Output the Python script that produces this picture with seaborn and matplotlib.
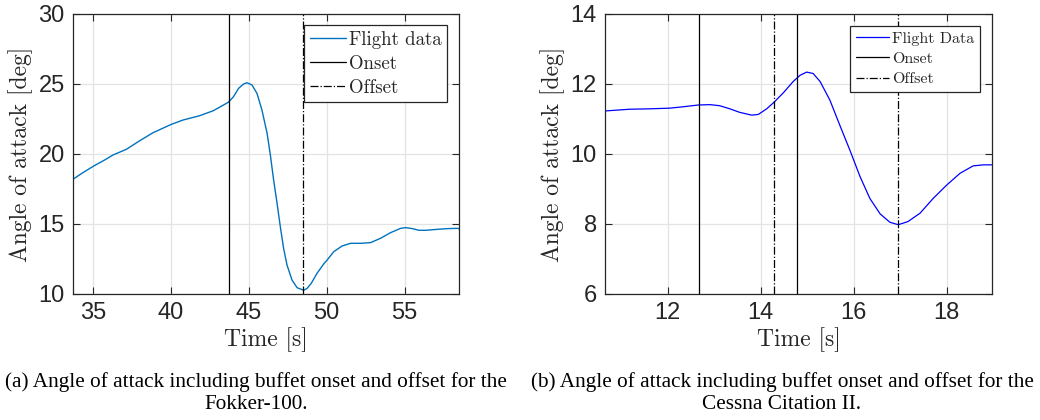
import numpy as np
import pandas as pd
import matplotlib
matplotlib.use("Agg")
import matplotlib.pyplot as plt
import seaborn as sns

# ---- data: Fokker-100 ----
fokker_t = [33.69, 34.34, 35.03, 35.73, 36.27, 37.12, 37.99, 38.84, 40.02, 40.78, 41.85, 42.71,
            43.69, 44.01, 44.34, 44.66, 44.88, 45.2, 45.52, 45.84, 46.17, 46.38, 46.59, 46.81,
            47.02, 47.23, 47.45, 47.77, 48.1, 48.52, 48.74, 49.0, 49.38, 49.81, 50.03, 50.45,
            50.99, 51.53, 52.17, 52.82, 53.46, 54.1, 54.75, 55.07, 55.5, 55.93, 56.36, 56.89,
            57.75, 58.4, 58.61]
fokker_aoa = [18.19, 18.67, 19.14, 19.57, 19.93, 20.33, 20.95, 21.52, 22.12, 22.43, 22.74, 23.09,
              23.70, 24.09, 24.69, 25.0, 25.09, 24.93, 24.33, 23.14, 21.48, 19.93, 18.14, 16.48,
              14.81, 13.26, 12.07, 11.0, 10.45, 10.27, 10.40, 10.75, 11.48, 12.15, 12.43, 13.02,
              13.43, 13.62, 13.62, 13.67, 13.98, 14.38, 14.69, 14.74, 14.67, 14.55, 14.55, 14.6,
              14.67, 14.69, 14.62]
fokker_onset = [43.7]
fokker_offset = [48.5]

# ---- data: Cessna Citation II ----
cessna_t = [10.66, 11.19, 11.6, 12.05, 12.34, 12.66, 12.91, 13.12, 13.34, 13.55, 13.81, 13.95,
            14.13, 14.29, 14.49, 14.7, 14.85, 14.99, 15.13, 15.28, 15.49, 15.71, 15.92, 16.14,
            16.35, 16.57, 16.78, 16.96, 17.17, 17.43, 17.71, 18.0, 18.29, 18.57, 18.79, 18.97]
cessna_aoa = [11.23, 11.28, 11.29, 11.31, 11.35, 11.40, 11.41, 11.38, 11.29, 11.19, 11.11, 11.13,
              11.29, 11.48, 11.75, 12.07, 12.25, 12.34, 12.30, 12.07, 11.54, 10.80, 10.11, 9.35,
              8.73, 8.29, 8.05, 7.98, 8.07, 8.31, 8.73, 9.11, 9.45, 9.66, 9.69, 9.69]
cessna_onset = [12.67, 14.79]
cessna_offset = [14.29, 16.96]

left_xticks = [35, 40, 45, 50, 55]
left_yticks = [10, 15, 20, 25, 30]
right_xticks = [12, 14, 16, 18]
right_yticks = [6, 8, 10, 12, 14]

caption_a = "(a) Angle of attack including buffet onset and offset for the\nFokker-100."
caption_b = "(b) Angle of attack including buffet onset and offset for the\nCessna Citation II."

sns.set_theme(style="white")
plt.rcParams["font.family"] = ["Liberation Sans", "DejaVu Sans"]
plt.rcParams["axes.unicode_minus"] = False

fig = plt.figure(figsize=(10.4, 4.2), dpi=100)
ax1 = fig.add_axes([73 / 1040, 1 - 294 / 420, 386 / 1040, 280 / 420])
ax2 = fig.add_axes([605.3 / 1040, 1 - 294 / 420, 386.4 / 1040, 280 / 420])

serif = ["cmr10", "DejaVu Serif"]
spine_col = "#262626"


def style(ax, xlim, ylim, xticks, yticks):
    ax.set_xlim(*xlim)
    ax.set_ylim(*ylim)
    ax.set_xticks(xticks)
    ax.set_yticks(yticks)
    ax.grid(True, color="#e3e3e3", linewidth=0.9)
    ax.set_axisbelow(True)
    for s in ax.spines.values():
        s.set_visible(True)
        s.set_color(spine_col)
        s.set_linewidth(0.9)
    ax.tick_params(direction="in", length=5, width=0.8, colors=spine_col,
                   top=True, right=True, bottom=True, left=True,
                   labelsize=17, pad=6)
    for lbl in ax.get_xticklabels() + ax.get_yticklabels():
        lbl.set_color("#262626")
    ax.set_xlabel("Time [s]", fontfamily=serif, fontsize=17, color="#262626", labelpad=2)
    ax.set_ylabel("Angle of attack [deg]", fontfamily=serif, fontsize=17, color="#262626", labelpad=4)


# left panel
df1 = pd.DataFrame({"t": fokker_t, "aoa": fokker_aoa})
sns.lineplot(data=df1, x="t", y="aoa", ax=ax1, color="#0072BD", linewidth=1.0,
             label="Flight data", sort=False)
for i, x in enumerate(fokker_onset):
    ax1.axvline(x, color="black", linewidth=0.9, label="Onset" if i == 0 else None)
for i, x in enumerate(fokker_offset):
    ax1.axvline(x, color="black", linewidth=0.9, linestyle="-.", label="Offset" if i == 0 else None)
style(ax1, (33.7, 58.5), (10, 30), left_xticks, left_yticks)
leg1 = ax1.legend(loc="upper right", prop={"family": serif, "size": 13.6}, frameon=True,
                  fancybox=False, edgecolor="#262626", framealpha=1, borderpad=0.3,
                  labelspacing=0.32, handlelength=1.9, handletextpad=0.15,
                  borderaxespad=0, bbox_to_anchor=(1 - 12 / 386, 1 - 11 / 280))
leg1.get_frame().set_linewidth(0.9)

# right panel
df2 = pd.DataFrame({"t": cessna_t, "aoa": cessna_aoa})
sns.lineplot(data=df2, x="t", y="aoa", ax=ax2, color="#0000FF", linewidth=0.9,
             label="Flight Data", sort=False)
for i, x in enumerate(cessna_onset):
    ax2.axvline(x, color="black", linewidth=0.9, label="Onset" if i == 0 else None)
for i, x in enumerate(cessna_offset):
    ax2.axvline(x, color="black", linewidth=0.9, linestyle="-.", label="Offset" if i == 0 else None)
style(ax2, (10.66, 18.97), (6, 14), right_xticks, right_yticks)
leg2 = ax2.legend(loc="upper right", prop={"family": serif, "size": 11.5}, frameon=True,
                  fancybox=False, edgecolor="#262626", framealpha=1, borderpad=0.35,
                  labelspacing=0.38, handlelength=2.1, handletextpad=0.15,
                  borderaxespad=0, bbox_to_anchor=(1 - 12 / 386, 1 - 12 / 280))
leg2.get_frame().set_linewidth(0.9)

cap_font = ["Liberation Serif", "DejaVu Serif"]
fig.text(256 / 1040, 1 - 372 / 420, caption_a, ha="center", va="top", fontsize=15.3,
         fontfamily=cap_font, linespacing=1.2, color="black")
fig.text(782 / 1040, 1 - 372 / 420, caption_b, ha="center", va="top", fontsize=15.3,
         fontfamily=cap_font, linespacing=1.2, color="black")

fig.savefig("out.png", dpi=100, facecolor="white")
